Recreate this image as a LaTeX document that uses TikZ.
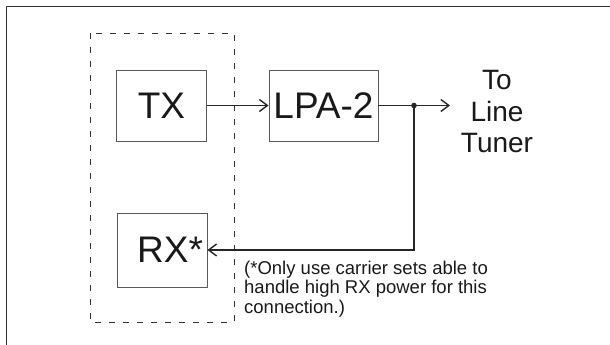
\documentclass[tikz,border=0pt]{standalone}
\usepackage{fontspec}
\setmainfont{Liberation Sans}
\usetikzlibrary{arrows.meta,positioning}

\tikzset{
  unit/.style={draw=black!65,line width=0.9pt,minimum width=90pt,minimum height=71pt,
    inner sep=0pt,text=black!90,font=\fontsize{37}{40}\selectfont},
  wire/.style={line width=1.7pt,draw=black!85},
  feed/.style={wire,-{Straight Barb[length=8pt,width=12pt,line width=1.4pt]}},
}

\begin{document}
\begin{tikzpicture}[x=1pt,y=-1pt]
  \useasboundingbox (0,0) rectangle (610,345);
  \draw[line width=1.8pt,black!80] (6.5,345) -- (6.5,6.5) -- (610,6.5);
  \draw[black!80,line width=0.9pt,dash pattern=on 6pt off 8pt] (90,33) rectangle (234,322);

  \node[unit] (tx) at (161.5,105.5) {TX};
  \node[unit,minimum width=109pt] (lpa) at (323.5,105.5) {LPA-2};
  \node[unit,minimum height=74pt,text width=82pt,align=right] (rx) at (162,250) {RX*};

  \coordinate (split) at (414,105.5);
  \coordinate (out) at (450,105.5);
  \node[align=center,inner sep=0pt,anchor=north,text=black!90,
    font=\fontsize{28}{31.7}\selectfont] (tuner) at (497,70) {To\\Line\\Tuner};
  \node[align=left,inner sep=0pt,anchor=north west,text=black!90,
    font=\fontsize{18.5}{19.5}\selectfont] (note) at (244,260.5)
    {(*Only use carrier sets able to\\handle high RX power for this\\connection.)};

  \draw[feed] (tx) -- (lpa);
  \draw[wire] (lpa) -- (split);
  \draw[feed] (split) -- (out);
  \draw[feed] (split) |- (rx);
  \fill[black!85] (split) circle (2.8pt);
\end{tikzpicture}
\end{document}
